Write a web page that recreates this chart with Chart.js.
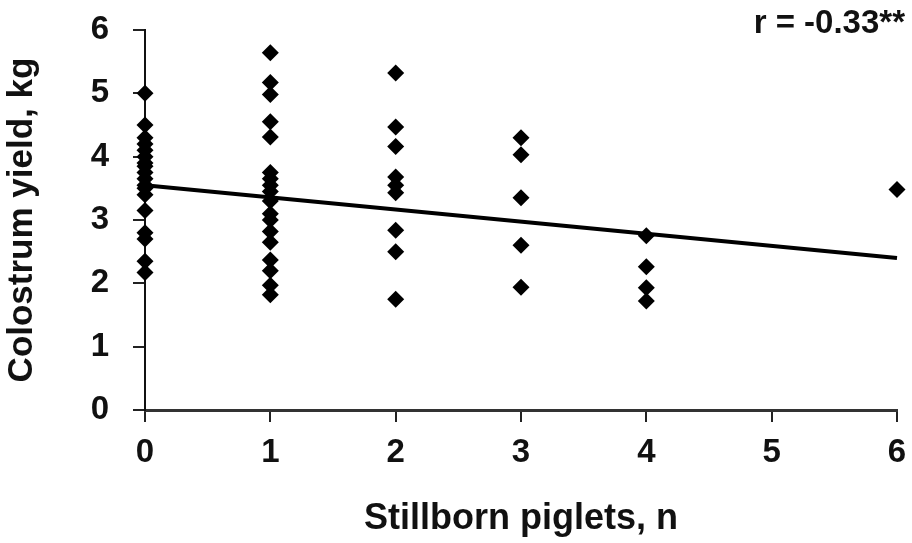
<!DOCTYPE html>
<html>
<head>
<meta charset="utf-8">
<script src="https://cdn.jsdelivr.net/npm/chart.js@4/dist/chart.umd.min.js"></script>
<style>
  html, body { margin: 0; padding: 0; background: #ffffff; }
  canvas { display: block; }
</style>
</head>
<body>
<canvas id="chart" width="912" height="543"></canvas>
<script>
// Stillborn piglets per litter (x) and colostrum yield per sow in kg (y)
const stillbornLevels = [0, 1, 2, 3, 4, 6];
const yieldAt0 = [5.0, 4.5, 4.3, 4.2, 4.1, 4.0, 3.9, 3.85, 3.75, 3.65, 3.55, 3.5, 3.4, 3.15, 2.8, 2.7, 2.35, 2.17];
const yieldAt1 = [5.64, 5.17, 4.98, 4.55, 4.31, 3.75, 3.65, 3.55, 3.45, 3.3, 3.1, 3.0, 2.82, 2.65, 2.37, 2.2, 1.97, 1.82];
const yieldAt2 = [5.32, 4.47, 4.16, 3.68, 3.55, 3.43, 2.84, 2.5, 1.75];
const yieldAt3 = [4.3, 4.03, 3.35, 2.6, 1.94];
const yieldAt4 = [2.75, 2.26, 1.93, 1.72];
const yieldAt6 = [3.48];
const yieldGroups = [yieldAt0, yieldAt1, yieldAt2, yieldAt3, yieldAt4, yieldAt6];

// Regression line end points
const trendX = [0, 6];
const trendY = [3.55, 2.40];

const axisMin = 0;
const axisMax = 6;
const correlationText = 'r = -0.33**';
const xAxisTitle = 'Stillborn piglets, n';
const yAxisTitle = 'Colostrum yield, kg';

const scatterPoints = [];
stillbornLevels.forEach((lvl, i) => {
  yieldGroups[i].forEach(v => scatterPoints.push({ x: lvl, y: v }));
});
const trendPoints = trendX.map((x, i) => ({ x: x, y: trendY[i] }));

const FONT = "'Liberation Sans', Arial, Helvetica, sans-serif";

const correlationPlugin = {
  id: 'correlationNote',
  afterDraw(chart) {
    const { ctx, chartArea } = chart;
    ctx.save();
    ctx.font = 'bold 33px ' + FONT;
    ctx.fillStyle = '#111111';
    ctx.textAlign = 'right';
    ctx.textBaseline = 'middle';
    ctx.fillText(correlationText, chartArea.right + 8, chartArea.top - 6);
    ctx.restore();
  }
};

new Chart(document.getElementById('chart'), {
  type: 'scatter',
  data: {
    datasets: [
      {
        type: 'line',
        data: trendPoints,
        borderColor: '#000000',
        borderWidth: 4,
        pointRadius: 0,
        fill: false,
        tension: 0,
        clip: false,
        order: 0
      },
      {
        data: scatterPoints,
        pointStyle: 'rectRot',
        pointRadius: 8.5,
        backgroundColor: '#000000',
        borderColor: '#000000',
        borderWidth: 0,
        clip: false,
        order: 1
      }
    ]
  },
  options: {
    responsive: false,
    animation: false,
    devicePixelRatio: 1,
    layout: { padding: { left: 0, right: 15, top: 30, bottom: 0 } },
    plugins: {
      legend: { display: false },
      tooltip: { enabled: false }
    },
    scales: {
      x: {
        type: 'linear',
        min: axisMin,
        max: axisMax,
        afterFit(scale) {
          scale.height = 133;
          scale.paddingLeft = 0;
          scale.paddingRight = 0;
        },
        ticks: {
          stepSize: 1,
          color: '#111111',
          padding: 11,
          font: { family: FONT, size: 33, weight: 'bold' }
        },
        grid: {
          display: true,
          drawOnChartArea: false,
          drawTicks: true,
          tickLength: 12,
          color: '#222222',
          lineWidth: 2
        },
        border: { display: true, color: '#333333', width: 3 },
        title: {
          display: true,
          text: xAxisTitle,
          color: '#111111',
          font: { family: FONT, size: 36, weight: 'bold' },
          padding: { top: 0, bottom: 2 }
        }
      },
      y: {
        type: 'linear',
        min: axisMin,
        max: axisMax,
        afterFit(scale) {
          scale.width = 145;
          scale.paddingTop = 0;
          scale.paddingBottom = 0;
        },
        ticks: {
          stepSize: 1,
          color: '#111111',
          padding: 24,
          font: { family: FONT, size: 33, weight: 'bold' }
        },
        grid: {
          display: true,
          drawOnChartArea: false,
          drawTicks: true,
          tickLength: 12,
          color: '#222222',
          lineWidth: 2
        },
        border: { display: true, color: '#111111', width: 2 },
        title: {
          display: true,
          text: yAxisTitle,
          color: '#111111',
          font: { family: FONT, size: 35, weight: 'bold' },
          padding: { top: 1, bottom: 0 }
        }
      }
    }
  },
  plugins: [correlationPlugin]
});
</script>
</body>
</html>
